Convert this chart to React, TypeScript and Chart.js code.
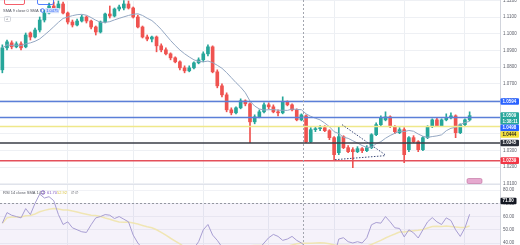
import React, { useEffect, useRef } from 'react';
import { Chart, registerables } from 'chart.js';
Chart.register(...registerables);

// ---------- data ----------
const OPEN = [1.0784,1.0916,1.0946,1.0922,1.0940,1.0922,1.1005,1.0981,1.1023,1.1083,
1.1125,1.1167,1.1155,1.1179,1.1125,1.1071,1.1053,1.1077,1.1101,1.1077,
1.1041,1.1011,1.1071,1.1119,1.1107,1.1149,1.1155,1.1179,1.1155,1.1101,
1.1041,1.0981,1.0969,1.0981,1.0928,1.0904,1.0880,1.0856,1.0832,1.0796,
1.0778,1.0796,1.0826,1.0844,1.0880,1.0922,1.0772,1.0688,1.0634,1.0544,
1.0526,1.0556,1.0598,1.0580,1.0472,1.0502,1.0532,1.0574,1.0562,1.0532,
1.0526,1.0592,1.0574,1.0544,1.0484,1.0508,1.0353,1.0425,1.0431,1.0437,
1.0419,1.0377,1.0287,1.0383,1.0317,1.0305,1.0293,1.0311,1.0299,1.0317,
1.0395,1.0455,1.0484,1.0502,1.0443,1.0407,1.0425,1.0305,1.0377,1.0353,
1.0305,1.0377,1.0443,1.0484,1.0449,1.0484,1.0496,1.0508,1.0407,1.0455,
1.0484];
const HIGH = [1.0934,1.0963,1.0958,1.0952,1.0952,1.1005,1.1011,1.1035,1.1101,1.1143,
1.1185,1.1191,1.1197,1.1191,1.1131,1.1083,1.1089,1.1113,1.1107,1.1083,
1.1047,1.1077,1.1125,1.1167,1.1155,1.1173,1.1199,1.1197,1.1161,1.1113,
1.1047,1.0993,1.0987,1.0987,1.0940,1.0916,1.0886,1.0862,1.0838,1.0808,
1.0808,1.0832,1.0856,1.0892,1.0934,1.0928,1.0784,1.0700,1.0646,1.0556,
1.0562,1.0610,1.0604,1.0586,1.0514,1.0544,1.0586,1.0586,1.0574,1.0544,
1.0622,1.0598,1.0580,1.0550,1.0520,1.0514,1.0437,1.0443,1.0449,1.0449,
1.0425,1.0383,1.0443,1.0389,1.0329,1.0317,1.0323,1.0317,1.0329,1.0401,
1.0466,1.0508,1.0532,1.0508,1.0449,1.0437,1.0437,1.0383,1.0389,1.0359,
1.0383,1.0449,1.0490,1.0496,1.0490,1.0520,1.0526,1.0514,1.0460,1.0490,
1.0532];
const LOW = [1.0766,1.0904,1.0910,1.0916,1.0904,1.0916,1.0963,1.0975,1.1011,1.1071,
1.1119,1.1143,1.1143,1.1119,1.1059,1.1041,1.1047,1.1071,1.1065,1.1029,
1.0993,1.1005,1.1065,1.1095,1.1101,1.1137,1.1143,1.1149,1.1095,1.1035,
1.0975,1.0958,1.0952,1.0892,1.0892,1.0874,1.0844,1.0826,1.0784,1.0766,
1.0772,1.0790,1.0820,1.0832,1.0868,1.0766,1.0676,1.0622,1.0532,1.0514,
1.0520,1.0550,1.0568,1.0347,1.0460,1.0496,1.0526,1.0550,1.0526,1.0508,
1.0520,1.0568,1.0538,1.0478,1.0478,1.0347,1.0347,1.0413,1.0419,1.0413,
1.0365,1.0245,1.0275,1.0311,1.0287,1.0197,1.0287,1.0287,1.0293,1.0311,
1.0389,1.0443,1.0478,1.0437,1.0401,1.0401,1.0227,1.0293,1.0347,1.0293,
1.0299,1.0371,1.0437,1.0443,1.0443,1.0478,1.0490,1.0377,1.0401,1.0449,
1.0478];
const CLOSE = [1.0916,1.0952,1.0922,1.0940,1.0916,1.0993,1.0981,1.1023,1.1083,1.1125,
1.1167,1.1155,1.1179,1.1125,1.1071,1.1053,1.1077,1.1101,1.1077,1.1041,
1.1011,1.1071,1.1119,1.1107,1.1149,1.1161,1.1179,1.1155,1.1101,1.1041,
1.0981,1.0969,1.0981,1.0928,1.0904,1.0880,1.0856,1.0832,1.0796,1.0778,
1.0796,1.0826,1.0844,1.0880,1.0922,1.0772,1.0688,1.0634,1.0544,1.0526,
1.0556,1.0598,1.0580,1.0472,1.0502,1.0532,1.0574,1.0562,1.0532,1.0526,
1.0592,1.0574,1.0544,1.0484,1.0514,1.0353,1.0425,1.0431,1.0437,1.0419,
1.0377,1.0275,1.0383,1.0317,1.0293,1.0293,1.0311,1.0299,1.0317,1.0395,
1.0455,1.0496,1.0502,1.0443,1.0413,1.0425,1.0275,1.0377,1.0353,1.0305,
1.0377,1.0443,1.0484,1.0449,1.0484,1.0496,1.0508,1.0407,1.0455,1.0484,
1.0509];
const RSI_VALUES = [55,63,61,60,59,66,61.5,70,77,74,
75,72,61.5,54,56,51.5,50,48.5,48,53.8,
59,60,61.5,61,58.5,60,58,56,46,40,
36,35,36,33,32,30,29,31,28,27,
28,36,41,50,54,46,42,37,31,30,
34,36,35,30,33,36,40,44,46.5,45,
42,43,45,42,40,37,33,34,35,34,
32,30,43,44,41,40,41,40,44,53.8,
55.5,55,60,56,51.5,51,44.6,50,47.7,43.8,
50,56,59.2,56,54,59,57,50,45,51.5,
61.7];

const LEVELS = [1.0594, 1.0498, 1.0444, 1.0345, 1.0239];
const LEVEL_COLORS = ['#5b7fd8', '#5b7fd8', '#efe88a', '#3a3d46', '#e4505a'];
const LEVEL_LABEL_BG = ['#2962ff', '#2962ff', '#f5e23c', '#2a2e39', '#f23645'];
const LEVEL_LABEL_FG = ['#ffffff', '#ffffff', '#1e1e1e', '#ffffff', '#ffffff'];
const PRICE_MIN = 1.0099;
const PRICE_MAX = 1.1203;
const PRICE_STEP = 0.01;
const RSI_MIN = 38.5;
const RSI_MAX = 84.6;
const RSI_STEP = 10;
const RSI_BAND = [30, 70];
const RSI_MARKER = 71.8;
const MONTH_STARTS = [14, 28, 43, 57, 71, 86, 99];
const SESSION_BREAK = 64.4;
const PATTERN_LINES = [
  [[72.7, 1.0455], [81.9, 1.0275]],
  [[71.2, 1.0245], [81.9, 1.0269]],
];
const BLANK_BARS = 6;
const COUNTDOWN = '1:38:11';
const SMA_LEN = 9;
const RSI_MA_LEN = 14;

const UP = '#26a69a';
const DOWN = '#ef5350';
const FONT = '"Liberation Sans", Arial, sans-serif';

function sma(arr: number[], n: number) {
  return arr.map((_, i) => {
    const w = arr.slice(Math.max(0, i - n + 1), i + 1);
    return w.reduce((a, b) => a + b, 0) / w.length;
  });
}

const SMA9 = sma(CLOSE, SMA_LEN);
const RSI_MA = sma(RSI_VALUES, RSI_MA_LEN);

function roundRect(ctx: CanvasRenderingContext2D, x: number, y: number, w: number, h: number, r: number) {
  ctx.beginPath();
  ctx.moveTo(x + r, y);
  ctx.lineTo(x + w - r, y);
  ctx.quadraticCurveTo(x + w, y, x + w, y + r);
  ctx.lineTo(x + w, y + h - r);
  ctx.quadraticCurveTo(x + w, y + h, x + w - r, y + h);
  ctx.lineTo(x + r, y + h);
  ctx.quadraticCurveTo(x, y + h, x, y + h - r);
  ctx.lineTo(x, y + r);
  ctx.quadraticCurveTo(x, y, x + r, y);
  ctx.closePath();
}

const decor = {
  id: 'tvDecor',
  beforeDatasetsDraw(chart: any) {
    const { ctx, chartArea, scales } = chart;
    const r = scales.yRsi;
    ctx.save();
    ctx.beginPath();
    ctx.rect(chartArea.left, r.top, chartArea.right - chartArea.left, r.bottom - r.top);
    ctx.clip();
    const t = r.getPixelForValue(RSI_BAND[1]);
    const b = r.getPixelForValue(RSI_BAND[0]);
    ctx.fillStyle = 'rgba(126,87,194,0.08)';
    ctx.fillRect(chartArea.left, t, chartArea.right - chartArea.left, b - t);
    ctx.restore();
    ctx.save();
    ctx.strokeStyle = '#e0e3eb';
    ctx.lineWidth = 1;
    ctx.beginPath();
    ctx.moveTo(chartArea.left, Math.round(r.top) + 0.5);
    ctx.lineTo(chartArea.right, Math.round(r.top) + 0.5);
    ctx.stroke();
    ctx.restore();
  },
  afterDatasetsDraw(chart: any) {
    const { ctx, chartArea, scales } = chart;
    const x = scales.x, y = scales.y, r = scales.yRsi;
    ctx.save();
    LEVELS.forEach((v, i) => {
      const py = y.getPixelForValue(v);
      ctx.strokeStyle = LEVEL_COLORS[i];
      ctx.lineWidth = 1.5;
      ctx.beginPath();
      ctx.moveTo(chartArea.left, py);
      ctx.lineTo(chartArea.right, py);
      ctx.stroke();
    });
    ctx.setLineDash([2, 2]);
    ctx.strokeStyle = '#9598a1';
    ctx.lineWidth = 1;
    const p70 = Math.round(r.getPixelForValue(RSI_BAND[1])) + 0.5;
    ctx.beginPath();
    ctx.moveTo(chartArea.left, p70);
    ctx.lineTo(chartArea.right, p70);
    ctx.stroke();
    const sx = Math.round(x.getPixelForValue(SESSION_BREAK)) + 0.5;
    ctx.strokeStyle = '#a3a6af';
    ctx.beginPath();
    ctx.moveTo(sx, chartArea.top);
    ctx.lineTo(sx, chartArea.bottom);
    ctx.stroke();
    ctx.setLineDash([1.5, 1.5]);
    ctx.strokeStyle = '#3c4a78';
    PATTERN_LINES.forEach(([a, b]) => {
      ctx.beginPath();
      ctx.moveTo(x.getPixelForValue(a[0]), y.getPixelForValue(a[1]));
      ctx.lineTo(x.getPixelForValue(b[0]), y.getPixelForValue(b[1]));
      ctx.stroke();
    });
    ctx.restore();
  },
  afterDraw(chart: any) {
    const { ctx, chartArea, scales } = chart;
    const y = scales.y, r = scales.yRsi;
    ctx.save();
    const last = CLOSE[CLOSE.length - 1];
    const labels: any[] = [
      { v: LEVELS[0], bg: LEVEL_LABEL_BG[0], fg: LEVEL_LABEL_FG[0], rows: [LEVELS[0].toFixed(4)] },
      { v: last, bg: UP, fg: '#ffffff', rows: [last.toFixed(4), COUNTDOWN] },
      { v: LEVELS[1], bg: LEVEL_LABEL_BG[1], fg: LEVEL_LABEL_FG[1], rows: [LEVELS[1].toFixed(4)] },
      { v: LEVELS[2], bg: LEVEL_LABEL_BG[2], fg: LEVEL_LABEL_FG[2], rows: [LEVELS[2].toFixed(4)] },
      { v: LEVELS[3], bg: LEVEL_LABEL_BG[3], fg: LEVEL_LABEL_FG[3], rows: [LEVELS[3].toFixed(4)] },
      { v: LEVELS[4], bg: LEVEL_LABEL_BG[4], fg: LEVEL_LABEL_FG[4], rows: [LEVELS[4].toFixed(4)] },
    ];
    labels.sort((a, b) => b.v - a.v);
    let prevBottom = -100;
    const rowH = 5.6;
    ctx.font = `bold 4.5px ${FONT}`;
    ctx.textBaseline = 'middle';
    labels.forEach((l) => {
      const py = y.getPixelForValue(l.v);
      const h = l.rows.length * rowH + 1;
      let top = py - rowH / 2 - 0.5;
      if (top < prevBottom) top = prevBottom;
      prevBottom = top + h;
      ctx.fillStyle = l.bg;
      roundRect(ctx, chartArea.right + 0.5, top, 18.5, h, 1);
      ctx.fill();
      ctx.fillStyle = l.fg;
      l.rows.forEach((t: string, k: number) => {
        ctx.fillText(t, chartArea.right + 2.5, top + 0.5 + rowH * k + rowH / 2);
      });
    });
    const ry = r.getPixelForValue(RSI_MARKER);
    ctx.fillStyle = '#131722';
    roundRect(ctx, chartArea.right + 0.5, ry - 3.3, 16, 6.6, 1);
    ctx.fill();
    ctx.fillStyle = '#ffffff';
    ctx.fillText(RSI_MARKER.toFixed(2), chartArea.right + 2.5, ry);

    ctx.lineWidth = 0.8;
    ctx.strokeStyle = '#f23645';
    roundRect(ctx, 4.5, -3, 20, 7.5, 1.5);
    ctx.stroke();
    ctx.strokeStyle = '#2962ff';
    roundRect(ctx, 37.5, -3, 16, 7.5, 1.5);
    ctx.stroke();

    ctx.font = `4px ${FONT}`;
    ctx.fillStyle = '#50535e';
    ctx.fillText('SMA 9 close 0 SMA 9', 3, 10.5);
    ctx.strokeStyle = '#2962ff';
    ctx.beginPath();
    ctx.arc(42.5, 10.5, 1.8, 0, Math.PI * 2);
    ctx.stroke();
    ctx.fillStyle = '#d5e0fb';
    ctx.fillRect(45.5, 8, 13.5, 5.2);
    ctx.fillStyle = '#2962ff';
    ctx.fillText(SMA9[SMA9.length - 1].toFixed(4), 46.2, 10.6);
    ctx.strokeStyle = '#c9ccd3';
    roundRect(ctx, 4.5, 16.5, 6, 5, 1);
    ctx.stroke();
    ctx.fillStyle = '#50535e';
    ctx.fillText('^', 6.3, 19.5);

    const ly = r.top + 8.5;
    ctx.fillStyle = '#50535e';
    ctx.fillText('RSI 14 close SMA 14 2', 3, ly);
    ctx.strokeStyle = '#7e57c2';
    ctx.beginPath();
    ctx.arc(43, ly, 1.8, 0, Math.PI * 2);
    ctx.stroke();
    ctx.fillStyle = '#7e57c2';
    ctx.fillText(RSI_VALUES[RSI_VALUES.length - 1].toFixed(2), 47, ly);
    ctx.fillStyle = '#d8c243';
    ctx.fillText(RSI_MA[RSI_MA.length - 1].toFixed(2), 57, ly);
    ctx.fillStyle = '#50535e';
    ctx.fillText('\u2205 \u2205', 71, ly);

    ctx.fillStyle = '#e6a9cf';
    roundRect(ctx, 467, r.top - 5.5, 15, 5, 1.5);
    ctx.fill();
    ctx.strokeStyle = '#c06b9c';
    ctx.lineWidth = 0.6;
    ctx.stroke();
    ctx.restore();
  },
};

const noPad = (s: any) => {
  s.width = 20;
  s.paddingTop = 0;
  s.paddingBottom = 0;
};

export default function App() {
  const ref = useRef<HTMLCanvasElement | null>(null);
  useEffect(() => {
    if (!ref.current) return;
    const idx = CLOSE.map((_, i) => i);
    const colors = idx.map((i) => (CLOSE[i] >= OPEN[i] ? UP : DOWN));
    const tickFont = { size: 4.5, family: FONT };
    const chart = new Chart(ref.current, {
      type: 'bar',
      data: {
        datasets: [
          {
            type: 'line', label: 'RSI', yAxisID: 'yRsi',
            data: RSI_VALUES.map((v, i) => ({ x: i, y: v })),
            borderColor: '#a79dd2', borderWidth: 1, pointRadius: 0, tension: 0, order: 0,
          } as any,
          {
            type: 'line', label: 'RSI MA', yAxisID: 'yRsi',
            data: RSI_MA.map((v, i) => ({ x: i, y: v })),
            borderColor: 'rgba(240,228,168,0.85)', borderWidth: 1.5, pointRadius: 0, order: 1,
          },
          {
            type: 'line', label: 'SMA 9', yAxisID: 'y',
            data: SMA9.map((v, i) => ({ x: i, y: v })),
            borderColor: '#94a7c2', borderWidth: 1, pointRadius: 0, order: 2,
          },
          {
            type: 'bar', label: 'body', yAxisID: 'y',
            data: idx.map((i) => ({ x: i, y: [OPEN[i], CLOSE[i]] })),
            backgroundColor: colors, barThickness: 3, grouped: false, minBarLength: 1, order: 3,
          },
          {
            type: 'bar', label: 'wick', yAxisID: 'y',
            data: idx.map((i) => ({ x: i, y: [LOW[i], HIGH[i]] })),
            backgroundColor: colors, barThickness: 1, grouped: false, order: 4,
          },
        ] as any,
      },
      options: {
        animation: false,
        responsive: false,
        devicePixelRatio: 1,
        layout: { padding: 0 },
        plugins: { legend: { display: false }, tooltip: { enabled: false } },
        scales: {
          x: {
            type: 'linear',
            min: -0.5,
            max: CLOSE.length - 1 + BLANK_BARS + 0.5,
            offset: false,
            grid: { color: '#eceff3', drawTicks: false, offset: false },
            border: { display: false },
            ticks: { display: false },
            afterBuildTicks: (s: any) => { s.ticks = MONTH_STARTS.map((v) => ({ value: v })); },
            afterFit: (s: any) => { s.height = 0; s.paddingLeft = 0; s.paddingRight = 0; },
          },
          y: {
            type: 'linear',
            axis: 'y',
            position: 'right',
            stack: 'panes',
            stackWeight: 184,
            min: PRICE_MIN,
            max: PRICE_MAX,
            afterFit: noPad,
            ticks: {
              stepSize: PRICE_STEP, includeBounds: false, autoSkip: false,
              callback: (v: any) => Number(v).toFixed(4),
              font: tickFont, color: '#5d606b', padding: 3,
            },
            grid: { color: '#eef0f4', drawTicks: false },
            border: { display: true, color: '#d1d4dc' },
          },
          yRsi: {
            type: 'linear',
            axis: 'y',
            position: 'right',
            stack: 'panes',
            stackWeight: 61,
            min: RSI_MIN,
            max: RSI_MAX,
            afterFit: noPad,
            ticks: {
              stepSize: RSI_STEP, includeBounds: false, autoSkip: false,
              callback: (v: any) => Number(v).toFixed(2),
              font: tickFont, color: '#5d606b', padding: 3,
            },
            grid: { color: '#f1f2f6', drawTicks: false },
            border: { display: true, color: '#d1d4dc' },
          },
        } as any,
      },
      plugins: [decor],
    });
    return () => chart.destroy();
  }, []);
  return (
    <div style={{ position: 'fixed', left: 0, top: 0, width: 520, height: 245, background: '#ffffff' }}>
      <canvas ref={ref} width={520} height={245} style={{ display: 'block' }} />
    </div>
  );
}
